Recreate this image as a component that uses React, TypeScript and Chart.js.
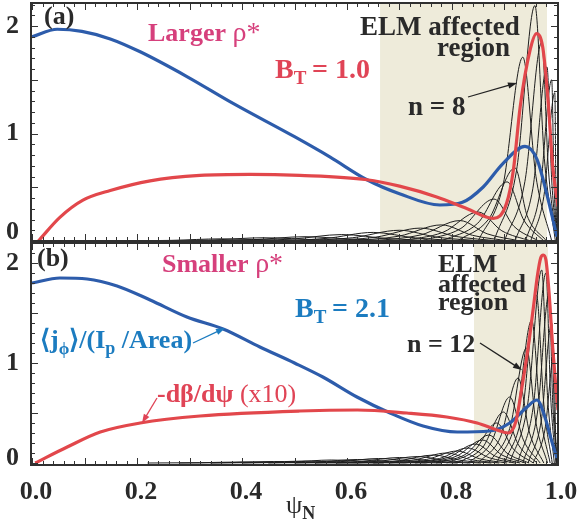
import React, { useEffect, useRef } from 'react';
import { Chart, registerables } from 'chart.js';
Chart.register(...registerables);

const SERIF = "'Liberation Serif', 'Times New Roman', serif";
const INK = '#2a2a2a';
const BLUE_LINE = '#2d5cab';
const RED_LINE = '#e2474b';
const PINK = '#d6407c';
const RED_TXT = '#e04456';
const BLUE_TXT = '#1c7cc0';
const SHADE = '#eeebda';
const MODE_INK = '#1e1e1e';

type P = [number, number];

// ---------- axis ticks ----------
const xTickValues = [0, 0.2, 0.4, 0.6, 0.8, 1.0];
const yTickValues = [0, 1, 2];

// ---------- panel (a): larger rho*, B_T = 1.0, n = 8 ----------
const shadeA: P = [0.663, 0.981];
const currentA: P[] = [
  [0, 1.9], [0.048, 1.97], [0.095, 1.95], [0.149, 1.88], [0.206, 1.76], [0.295, 1.53],
  [0.383, 1.28], [0.5, 0.97], [0.568, 0.78], [0.638, 0.57], [0.7, 0.44], [0.777, 0.335],
  [0.82, 0.36], [0.859, 0.5], [0.897, 0.72], [0.939, 0.88], [0.962, 0.76], [0.981, 0.43], [1.0, 0.04],
];
const pressureA: P[] = [
  [0.012, 0], [0.053, 0.22], [0.097, 0.38], [0.149, 0.47], [0.225, 0.56], [0.32, 0.61],
  [0.415, 0.62], [0.51, 0.61], [0.638, 0.57], [0.7, 0.51], [0.771, 0.41], [0.829, 0.3],
  [0.879, 0.21], [0.904, 0.35], [0.917, 0.66], [0.93, 1.25], [0.949, 1.78], [0.961, 1.93],
  [0.973, 1.8], [0.983, 1.31], [0.992, 0.69], [1.002, 0.32],
];
// poloidal harmonics of the n = 8 mode: [psi, amplitude] points
const modesA: P[][] = [
  [[0.15, 0], [0.266, 0.006], [0.36, 0.02], [0.477, 0.007], [0.62, 0]],
  [[0.22, 0], [0.341, 0.009], [0.44, 0.03], [0.548, 0.011], [0.68, 0]],
  [[0.3, 0], [0.421, 0.012], [0.52, 0.04], [0.619, 0.014], [0.74, 0]],
  [[0.38, 0], [0.496, 0.018], [0.59, 0.06], [0.68, 0.021], [0.79, 0]],
  [[0.45, 0], [0.56, 0.024], [0.65, 0.08], [0.731, 0.028], [0.83, 0]],
  [[0.5, 0], [0.61, 0.03], [0.7, 0.1], [0.772, 0.035], [0.86, 0]],
  [[0.55, 0], [0.655, 0.036], [0.74, 0.12], [0.808, 0.042], [0.89, 0]],
  [[0.6, 0], [0.699, 0.045], [0.78, 0.15], [0.839, 0.053], [0.91, 0]],
  [[0.65, 0], [0.741, 0.057], [0.815, 0.19], [0.867, 0.067], [0.93, 0]],
  [[0.7, 0], [0.783, 0.081], [0.85, 0.27], [0.895, 0.095], [0.95, 0]],
  [[0.74, 0], [0.817, 0.117], [0.88, 0.39], [0.918, 0.137], [0.965, 0]],
  [[0.78, 0], [0.849, 0.165], [0.905, 0.55], [0.937, 0.193], [0.975, 0]],
  [[0.81, 0], [0.87, 0.204], [0.92, 0.68], [0.943, 0.238], [0.98, 0]],
  [[0.85, 0], [0.897, 0.513], [0.935, 1.71], [0.96, 0.6], [0.99, 0]],
  [[0.88, 0], [0.923, 0.657], [0.958, 2.19], [0.976, 0.767], [0.997, 0]],
  [[0.9, 0], [0.939, 0.555], [0.971, 1.85], [0.984, 0.65], [1.0, 0]],
  [[0.92, 0], [0.954, 0.486], [0.981, 1.62], [0.99, 0.567], [1.0, 0]],
  [[0.94, 0], [0.9675, 0.45], [0.99, 1.5], [0.9945, 0.525], [1.0, 0]],
  [[0.95, 0], [0.975, 0.414], [0.996, 1.38], [0.998, 0.483], [1.0, 0]],
];

// ---------- panel (b): smaller rho*, B_T = 2.1, n = 12 ----------
const shadeB: P = [0.842, 0.983];
const currentB: P[] = [
  [0, 1.8], [0.053, 1.85], [0.105, 1.84], [0.162, 1.77], [0.225, 1.63], [0.295, 1.46],
  [0.364, 1.34], [0.434, 1.16], [0.5, 1.0], [0.554, 0.86], [0.619, 0.66], [0.682, 0.5],
  [0.745, 0.37], [0.81, 0.31], [0.872, 0.32], [0.91, 0.4], [0.943, 0.56], [0.962, 0.63],
  [0.977, 0.46], [0.99, 0.22], [1.0, 0.05],
];
const pressureB: P[] = [
  [0.006, 0], [0.067, 0.16], [0.13, 0.31], [0.206, 0.4], [0.32, 0.47], [0.51, 0.52],
  [0.62, 0.53], [0.714, 0.5], [0.79, 0.46], [0.848, 0.4], [0.886, 0.33], [0.907, 0.3],
  [0.922, 0.42], [0.933, 0.75], [0.945, 1.15], [0.955, 1.55], [0.963, 1.88], [0.969, 2.05],
  [0.974, 2.08], [0.979, 2.03], [0.985, 1.7], [0.992, 1.15], [0.998, 0.75], [1.002, 0.53],
];
// poloidal harmonics of the n = 12 mode
const modesB: P[][] = [
  [[0.22, 0], [0.319, 0.003], [0.4, 0.01], [0.499, 0.0035], [0.62, 0]],
  [[0.28, 0], [0.379, 0.0045], [0.46, 0.015], [0.555, 0.005], [0.67, 0]],
  [[0.34, 0], [0.439, 0.006], [0.52, 0.02], [0.606, 0.007], [0.71, 0]],
  [[0.4, 0], [0.494, 0.009], [0.57, 0.03], [0.651, 0.0105], [0.75, 0]],
  [[0.45, 0], [0.544, 0.0105], [0.62, 0.035], [0.692, 0.012], [0.78, 0]],
  [[0.5, 0], [0.588, 0.0135], [0.66, 0.045], [0.728, 0.016], [0.81, 0]],
  [[0.54, 0], [0.628, 0.0165], [0.7, 0.055], [0.761, 0.019], [0.835, 0]],
  [[0.58, 0], [0.665, 0.0195], [0.735, 0.065], [0.789, 0.023], [0.855, 0]],
  [[0.62, 0], [0.7, 0.024], [0.765, 0.08], [0.815, 0.028], [0.875, 0]],
  [[0.65, 0], [0.727, 0.03], [0.79, 0.1], [0.835, 0.035], [0.89, 0]],
  [[0.68, 0], [0.752, 0.036], [0.81, 0.12], [0.853, 0.042], [0.905, 0]],
  [[0.71, 0], [0.776, 0.045], [0.83, 0.15], [0.871, 0.0525], [0.92, 0]],
  [[0.73, 0], [0.793, 0.057], [0.845, 0.19], [0.883, 0.0665], [0.93, 0]],
  [[0.75, 0], [0.809, 0.069], [0.858, 0.23], [0.895, 0.0805], [0.94, 0]],
  [[0.77, 0], [0.825, 0.084], [0.87, 0.28], [0.905, 0.098], [0.947, 0]],
  [[0.79, 0], [0.842, 0.12], [0.885, 0.4], [0.917, 0.14], [0.955, 0]],
  [[0.81, 0], [0.858, 0.153], [0.898, 0.51], [0.927, 0.1785], [0.962, 0]],
  [[0.83, 0], [0.874, 0.198], [0.91, 0.66], [0.936, 0.231], [0.968, 0]],
  [[0.85, 0], [0.892, 0.255], [0.926, 0.85], [0.948, 0.2975], [0.975, 0]],
  [[0.87, 0], [0.91, 0.345], [0.942, 1.15], [0.96, 0.4025], [0.982, 0]],
  [[0.885, 0], [0.922, 0.429], [0.952, 1.43], [0.968, 0.5], [0.987, 0]],
  [[0.9, 0], [0.934, 0.504], [0.961, 1.68], [0.975, 0.588], [0.991, 0]],
  [[0.91, 0], [0.944, 0.579], [0.971, 1.93], [0.982, 0.6755], [0.995, 0]],
  [[0.925, 0], [0.955, 0.57], [0.979, 1.9], [0.988, 0.665], [0.998, 0]],
  [[0.935, 0], [0.963, 0.51], [0.985, 1.7], [0.992, 0.595], [1.0, 0]],
  [[0.945, 0], [0.97, 0.42], [0.99, 1.4], [0.995, 0.49], [1.0, 0]],
  [[0.955, 0], [0.977, 0.33], [0.995, 1.1], [0.997, 0.385], [1.0, 0]],
];

// ---------- drawing helpers ----------
type Seg = { t: string; f: string; c: string; dy?: number };
const bold = (s: number) => `bold ${s}px ${SERIF}`;
const reg = (s: number) => `${s}px ${SERIF}`;

function rich(ctx: CanvasRenderingContext2D, x: number, y: number, segs: Seg[]) {
  let cx = x;
  ctx.textBaseline = 'alphabetic';
  ctx.textAlign = 'left';
  for (const s of segs) {
    ctx.font = s.f;
    ctx.fillStyle = s.c;
    ctx.fillText(s.t, cx, y + (s.dy || 0));
    cx += ctx.measureText(s.t).width;
  }
}

function arrow(ctx: CanvasRenderingContext2D, x1: number, y1: number, x2: number, y2: number, color: string) {
  const a = Math.atan2(y2 - y1, x2 - x1);
  const head = 9, hw = 3.2;
  ctx.strokeStyle = color;
  ctx.lineWidth = 1.3;
  ctx.beginPath();
  ctx.moveTo(x1, y1);
  ctx.lineTo(x2 - head * 0.7 * Math.cos(a), y2 - head * 0.7 * Math.sin(a));
  ctx.stroke();
  ctx.fillStyle = color;
  ctx.beginPath();
  ctx.moveTo(x2, y2);
  ctx.lineTo(x2 - head * Math.cos(a) + hw * Math.sin(a), y2 - head * Math.sin(a) - hw * Math.cos(a));
  ctx.lineTo(x2 - head * Math.cos(a) - hw * Math.sin(a), y2 - head * Math.sin(a) + hw * Math.cos(a));
  ctx.closePath();
  ctx.fill();
}

function decor(shade: P, offsetTop: number, notes: (ctx: CanvasRenderingContext2D) => void) {
  return {
    id: 'decor',
    beforeDatasetsDraw(chart: any) {
      const { ctx, chartArea } = chart;
      const xs = chart.scales.x;
      const x1 = xs.getPixelForValue(shade[0]);
      const x2 = xs.getPixelForValue(shade[1]);
      ctx.save();
      ctx.fillStyle = SHADE;
      ctx.fillRect(x1, chartArea.top, x2 - x1, chartArea.bottom - chartArea.top);
      ctx.restore();
    },
    afterDraw(chart: any) {
      const { ctx, chartArea } = chart;
      const { left, right, top, bottom } = chartArea;
      const xs = chart.scales.x;
      const ys = chart.scales.y;
      ctx.save();
      ctx.strokeStyle = '#333';
      ctx.lineWidth = 1;
      ctx.beginPath();
      for (let i = 0; i <= 50; i++) {
        const px = Math.round(xs.getPixelForValue(i * 0.02)) + 0.5;
        const len = i % 5 === 0 ? 7 : 4;
        ctx.moveTo(px, top); ctx.lineTo(px, top + len);
        ctx.moveTo(px, bottom); ctx.lineTo(px, bottom - len);
      }
      for (let i = 0; i <= 22; i++) {
        const v = i * 0.1;
        if (v > ys.max) break;
        const py = Math.round(ys.getPixelForValue(v)) + 0.5;
        const len = i % 5 === 0 ? 7 : 4;
        ctx.moveTo(left, py); ctx.lineTo(left + len, py);
        ctx.moveTo(right, py); ctx.lineTo(right - len, py);
      }
      ctx.stroke();
      ctx.lineWidth = 2;
      ctx.strokeStyle = '#303030';
      ctx.strokeRect(left, top, right - left, bottom - top);
      ctx.translate(0, -offsetTop);
      notes(ctx);
      ctx.restore();
    },
  };
}

const notesA = (ctx: CanvasRenderingContext2D) => {
  rich(ctx, 44, 24, [{ t: '(a)', f: bold(26), c: INK }]);
  rich(ctx, 148, 41, [{ t: 'Larger ', f: bold(26), c: PINK }, { t: 'ρ*', f: reg(28), c: PINK }]);
  rich(ctx, 275, 78, [
    { t: 'B', f: bold(28), c: RED_TXT },
    { t: 'T', f: bold(19), c: RED_TXT, dy: 6 },
    { t: '\u2009= 1.0', f: bold(28), c: RED_TXT },
  ]);
  rich(ctx, 360, 35, [{ t: 'ELM affected', f: bold(27), c: INK }]);
  rich(ctx, 437, 56, [{ t: 'region', f: bold(27), c: INK }]);
  rich(ctx, 408, 115, [{ t: 'n = 8', f: bold(27), c: INK }]);
  arrow(ctx, 468, 97, 517, 83, '#222');
};

const notesB = (ctx: CanvasRenderingContext2D) => {
  rich(ctx, 37, 266, [{ t: '(b)', f: bold(26), c: INK }]);
  rich(ctx, 162, 272, [{ t: 'Smaller ', f: bold(26), c: PINK }, { t: 'ρ*', f: reg(28), c: PINK }]);
  rich(ctx, 295, 317, [
    { t: 'B', f: bold(28), c: BLUE_TXT },
    { t: 'T', f: bold(19), c: BLUE_TXT, dy: 6 },
    { t: '\u2009= 2.1', f: bold(28), c: BLUE_TXT },
  ]);
  rich(ctx, 438, 272, [{ t: 'ELM', f: bold(26), c: INK }]);
  rich(ctx, 438, 292, [{ t: 'affected', f: bold(26), c: INK }]);
  rich(ctx, 438, 310, [{ t: 'region', f: bold(26), c: INK }]);
  rich(ctx, 407, 352, [{ t: 'n = 12', f: bold(26), c: INK }]);
  arrow(ctx, 480, 343, 522, 370, '#222');
  rich(ctx, 40, 348, [
    { t: '⟨j', f: bold(26), c: BLUE_TXT },
    { t: 'ϕ', f: bold(17), c: BLUE_TXT, dy: 6 },
    { t: '⟩/(I', f: bold(26), c: BLUE_TXT },
    { t: 'p', f: bold(18), c: BLUE_TXT, dy: 6 },
    { t: ' /Area)', f: bold(26), c: BLUE_TXT },
  ]);
  arrow(ctx, 193, 343, 225, 328, BLUE_TXT);
  rich(ctx, 157, 402, [
    { t: '-dβ/dψ', f: bold(26), c: RED_TXT },
    { t: ' (x10)', f: reg(26), c: RED_TXT },
  ]);
  arrow(ctx, 157, 398, 142, 423, RED_TXT);
  rich(ctx, 286, 513, [
    { t: 'ψ', f: reg(26), c: INK },
    { t: 'N', f: bold(18), c: INK, dy: 6 },
  ]);
};

function buildDatasets(current: P[], pressure: P[], modes: P[][]) {
  const toXY = (pts: P[]) => pts.map(([x, y]) => ({ x, y }));
  const ds: any[] = [
    { data: toXY(pressure), borderColor: RED_LINE, borderWidth: 3.2 },
    { data: toXY(current), borderColor: BLUE_LINE, borderWidth: 3.2 },
  ];
  for (const m of modes) ds.push({ data: toXY(m), borderColor: MODE_INK, borderWidth: 1 });
  return ds.map((d) => ({ ...d, pointRadius: 0, fill: false, cubicInterpolationMode: 'monotone' }));
}

function makeConfig(opts: {
  current: P[]; pressure: P[]; modes: P[][]; shade: P; yMin: number; yMax: number;
  padTop: number; padBottom: number; showX: boolean; zeroShift: string; offsetTop: number;
  notes: (ctx: CanvasRenderingContext2D) => void;
}): any {
  return {
    type: 'line',
    data: { datasets: buildDatasets(opts.current, opts.pressure, opts.modes) },
    options: {
      animation: false,
      responsive: false,
      devicePixelRatio: 1,
      layout: { padding: { left: 0, right: 29, top: opts.padTop, bottom: opts.padBottom } },
      plugins: { legend: { display: false }, tooltip: { enabled: false } },
      scales: {
        x: {
          type: 'linear',
          min: -0.002,
          max: 1.002,
          display: opts.showX,
          grid: { display: false },
          border: { display: false },
          afterBuildTicks: (s: any) => { s.ticks = xTickValues.map((value) => ({ value })); },
          afterFit: (s: any) => {
            s.height = opts.showX ? 57 : 0;
            s.paddingLeft = 0; s.paddingRight = 0; s.paddingTop = 0; s.paddingBottom = 0;
          },
          ticks: {
            autoSkip: false,
            maxRotation: 0,
            padding: 4,
            labelOffset: 4,
            color: INK,
            font: { family: SERIF, size: 26, weight: 'bold' },
            callback: (v: any) => Number(v).toFixed(1),
          },
        },
        y: {
          type: 'linear',
          min: opts.yMin,
          max: opts.yMax,
          grid: { display: false },
          border: { display: false },
          afterBuildTicks: (s: any) => { s.ticks = yTickValues.map((value) => ({ value })); },
          afterFit: (s: any) => { s.width = 31; s.paddingTop = 0; s.paddingBottom = 0; },
          ticks: {
            autoSkip: false,
            padding: 4,
            color: INK,
            font: { family: SERIF, size: 26, weight: 'bold', lineHeight: opts.zeroShift },
            callback: (v: any) => (Number(v) === 0 ? ['0', ''] : String(v)),
          },
        },
      },
    },
    plugins: [decor(opts.shade, opts.offsetTop, opts.notes)],
  };
}

export default function App() {
  const refA = useRef<HTMLCanvasElement>(null);
  const refB = useRef<HTMLCanvasElement>(null);

  useEffect(() => {
    document.body.style.margin = '0';
    const a = new Chart(refA.current!, makeConfig({
      current: currentA, pressure: pressureA, modes: modesA, shade: shadeA,
      yMin: 0, yMax: 2.214, padTop: 3, padBottom: 3, showX: false, zeroShift: '18px',
      offsetTop: 0, notes: notesA,
    }));
    const b = new Chart(refB.current!, makeConfig({
      current: currentB, pressure: pressureB, modes: modesB, shade: shadeB,
      yMin: -0.02, yMax: 2.2, padTop: 2, padBottom: 0, showX: true, zeroShift: '10px',
      offsetTop: 241, notes: notesB,
    }));
    return () => { a.destroy(); b.destroy(); };
  }, []);

  return (
    <div style={{ position: 'absolute', left: 0, top: 0, width: 587, height: 522, background: '#fff' }}>
      <canvas ref={refA} width={587} height={244} style={{ position: 'absolute', left: 0, top: 0, width: 587, height: 244 }} />
      <canvas ref={refB} width={587} height={281} style={{ position: 'absolute', left: 0, top: 241, width: 587, height: 281 }} />
    </div>
  );
}
